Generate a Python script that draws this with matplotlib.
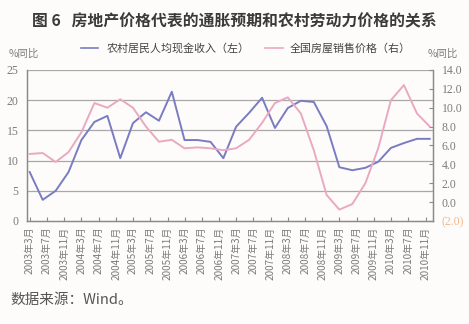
import matplotlib
matplotlib.use("Agg")
import matplotlib.pyplot as plt
import pandas as pd

plt.rcParams['font.family'] = ['Noto Sans CJK SC', 'DejaVu Sans']

# quarterly observations, 2003Q1 .. 2010Q4
dates = pd.date_range('2003-03-01', '2010-12-01', freq='3MS')
rural_income = [8.1, 3.5, 5.0, 8.1, 13.4, 16.4, 17.4, 10.4,
                16.2, 18.0, 16.6, 21.4, 13.4, 13.4, 13.1, 10.4,
                15.6, 17.9, 20.4, 15.4, 18.7, 19.9, 19.7, 15.7,
                8.9, 8.4, 8.8, 9.8, 12.1, 12.9, 13.6, 13.6]
house_price = [5.1, 5.2, 4.25, 5.3, 7.4, 10.5, 10.0, 10.9,
               10.0, 8.0, 6.4, 6.6, 5.7, 5.8, 5.7, 5.5,
               5.7, 6.6, 8.4, 10.5, 11.1, 9.4, 5.5, 0.75,
               -0.8, -0.2, 2.0, 5.7, 10.8, 12.4, 9.4, 8.0]

tick_dates = pd.date_range('2003-03-01', '2010-11-01', freq='4MS')
tick_labels = [f"{d.year}年{d.month}月" for d in tick_dates]
left_ticks = [0, 5, 10, 15, 20, 25]
right_ticks = [-2, 0, 2, 4, 6, 8, 10, 12, 14]

blue = '#7a7cc2'
pink = '#eaa9c3'
grey = '#8a8a8a'
txt = '#7c7c7c'

fig = plt.figure(figsize=(4.69, 3.24), dpi=100)
fig.patch.set_facecolor('#fdfcfa')
ax = fig.add_axes([0.0576, 0.318, 0.866, 0.466])
ax.set_facecolor('#fdfcfa')
ax2 = ax.twinx()

ax.plot(dates, rural_income, color=blue, lw=1.4, zorder=3)
ax2.plot(dates, house_price, color=pink, lw=1.4, zorder=3)

ax.set_ylim(0, 25)
ax2.set_ylim(-2, 14)
ax.set_xlim(pd.Timestamp('2003-02-10'), pd.Timestamp('2010-12-25'))

ax.set_yticks(left_ticks)
ax.set_yticklabels([str(v) for v in left_ticks], family='Liberation Serif',
                   fontsize=8.5, color=txt)
ax2.set_yticks(right_ticks)
right_labels = ax2.set_yticklabels(
    [f"({abs(v):.1f})" if v < 0 else f"{v:.1f}" for v in right_ticks],
    family='Liberation Serif', fontsize=8.5, color=txt)
right_labels[0].set_color('#f2b88e')

for v in left_ticks[1:]:
    ax.axhline(v, color='#a8a8a8', lw=0.9, zorder=1)

ax.set_xticks(tick_dates)
ax.set_xticklabels(tick_labels, rotation=90, fontsize=7.2, color=txt)

for a in (ax, ax2):
    for side in ('left', 'right', 'bottom'):
        a.spines[side].set_color(grey)
        a.spines[side].set_linewidth(0.9)
    a.spines['top'].set_visible(False)
ax.tick_params(axis='x', direction='in', length=3, color=grey, pad=4)
ax.tick_params(axis='y', direction='in', length=0, pad=6)
ax2.tick_params(axis='y', direction='in', length=3, color=grey, pad=6)

fig.text(0.5, 0.935, "图 6   房地产价格代表的通胀预期和农村劳动力价格的关系",
         ha='center', va='center', fontsize=11.4, color='#3a3a3a', weight='bold')
fig.text(0.018, 0.835, "%同比", fontsize=7.5, color=txt, va='center')
fig.text(0.912, 0.835, "%同比", fontsize=7.5, color=txt, va='center')

# legend drawn as figure lines and text
fig.add_artist(plt.Line2D([0.172, 0.21], [0.852, 0.852], color=blue, lw=1.2))
fig.text(0.228, 0.852, "农村居民人均现金收入（左）", fontsize=7.9, color='#444444', va='center')
fig.add_artist(plt.Line2D([0.565, 0.603], [0.852, 0.852], color=pink, lw=1.2))
fig.text(0.618, 0.852, "全国房屋销售价格（右）", fontsize=7.9, color='#444444', va='center')

fig.text(0.022, 0.075, "数据来源：Wind。", fontsize=10.5, color='#555555', va='center')

fig.savefig('out.png', dpi=100, facecolor=fig.get_facecolor())
